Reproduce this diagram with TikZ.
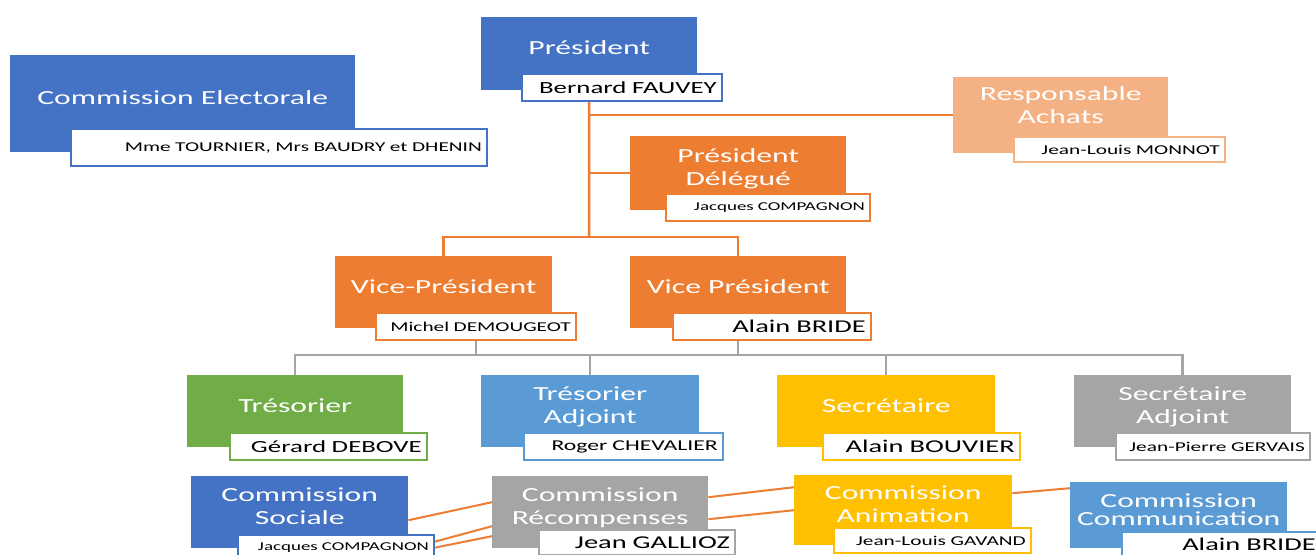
\documentclass[tikz,border=0pt]{standalone}
\usepackage{fontspec}
\setmainfont{Carlito}[FakeStretch=1.58]
\usepackage{tikz}
\usetikzlibrary{positioning,backgrounds}

\definecolor{cblue}{HTML}{4472C4}
\definecolor{corange}{HTML}{ED7D31}
\definecolor{clorange}{HTML}{F4B183}
\definecolor{cgreen}{HTML}{70AD47}
\definecolor{clblue}{HTML}{5B9BD5}
\definecolor{cyellow}{HTML}{FFC000}
\definecolor{cgray}{HTML}{A5A5A5}

\newcommand{\titlesize}{\fontsize{20}{23}\selectfont}
\newcommand{\namebig}{\fontsize{18}{20}\selectfont}
\newcommand{\namelarge}{\fontsize{17}{19}\selectfont}
\newcommand{\namemid}{\fontsize{15}{17}\selectfont}
\newcommand{\namesmall}{\fontsize{13.5}{15}\selectfont}
\newcommand{\nametiny}{\fontsize{12}{14}\selectfont}

\tikzset{
  titlebox/.style={fill=#1, text=white, font=\titlesize, align=center,
    minimum width=216pt, minimum height=72pt, text depth=12pt,
    inner sep=0pt, anchor=north west},
  namebox/.style={draw=#1, line width=1.6pt, fill=white, text=black,
    align=right, inner xsep=5pt, inner ysep=0pt, minimum height=27pt},
  orangeline/.style={draw=corange, line width=2.5pt},
  grayline/.style={draw=cgray, line width=2.5pt},
  linkline/.style={draw=corange, line width=2pt}
}

\begin{document}
\begin{tikzpicture}[x=1pt, y=-1pt]
\useasboundingbox (0,0) rectangle (1316,554);
\clip (0,0) rectangle (1316,554);

% bureau
\node (elec) [titlebox=cblue, minimum width=345pt, minimum height=97pt] at (10,55) {Commission Electorale};
\node (elecname) [namebox=cblue, text width=406pt, minimum height=37pt, font=\namesmall, below right=-24pt and 60pt of elec.south west] {Mme TOURNIER, Mrs BAUDRY et DHENIN};

\node (pres) [titlebox=cblue, minimum height=73pt] at (481,17) {Président};
\node (presname) [namebox=cblue, text width=190pt, font=\namelarge, below right=-17pt and 40pt of pres.south west] {Bernard FAUVEY};

\node (achats) [titlebox=clorange, minimum width=215pt, minimum height=76pt, text depth=20pt] at (953,77) {Responsable\\Achats};
\node (achatsname) [namebox=clorange, text width=201pt, minimum height=25pt, font=\namesmall, below right=-17pt and 60pt of achats.south west] {Jean-Louis MONNOT};

\node (deleg) [titlebox=corange, minimum height=74pt] at (630,136) {Président\\Délégué};
\node (delegname) [namebox=corange, text width=194pt, font=\nametiny, below right=-17pt and 35pt of deleg.south west] {Jacques COMPAGNON};

\node (vp1) [titlebox=corange, minimum width=217pt] at (335,256) {Vice-Président};
\node (vp1name) [namebox=corange, text width=190pt, font=\namesmall, below right=-16pt and 40pt of vp1.south west] {Michel DEMOUGEOT};

\node (vp2) [titlebox=corange] at (630,256) {Vice Président};
\node (vp2name) [namebox=corange, text width=188pt, font=\namebig, below right=-16pt and 42pt of vp2.south west] {Alain BRIDE};

% equipe
\node (tres) [titlebox=cgreen] at (187,375) {Trésorier};
\node (tresname) [namebox=cgreen, text width=187pt, font=\namelarge, below right=-15pt and 42pt of tres.south west] {Gérard DEBOVE};

\node (tresadj) [titlebox=clblue, minimum width=218pt] at (481,375) {Trésorier\\Adjoint};
\node (tresadjname) [namebox=clblue, text width=189pt, font=\namemid, below right=-15pt and 42pt of tresadj.south west] {Roger CHEVALIER};

\node (secr) [titlebox=cyellow, minimum width=218pt] at (777,375) {Secrétaire};
\node (secrname) [namebox=cyellow, text width=187pt, font=\namebig, below right=-15pt and 45pt of secr.south west] {Alain BOUVIER};

\node (secradj) [titlebox=cgray, minimum width=217pt] at (1074,375) {Secrétaire\\Adjoint};
\node (secradjname) [namebox=cgray, text width=184pt, font=\namesmall, below right=-15pt and 41pt of secradj.south west] {Jean-Pierre GERVAIS};

% commissions
\node (soc) [titlebox=cblue, minimum width=217pt] at (191,476) {Commission\\Sociale};
\node (socname) [namebox=cblue, text width=186pt, minimum height=25pt, font=\nametiny, below right=-14pt and 46pt of soc.south west] {Jacques COMPAGNON};

\node (recomp) [titlebox=cgray] at (492,476) {Commission\\Récompenses};
\node (recompname) [namebox=cgray, text width=186pt, minimum height=25pt, font=\namebig, below right=-19pt and 46pt of recomp.south west] {Jean GALLIOZ};

\node (anim) [titlebox=cyellow, minimum width=218pt, minimum height=70pt] at (794,475) {Commission\\Animation};
\node (animname) [namebox=cyellow, text width=187pt, minimum height=25pt, font=\namesmall, below right=-18pt and 39pt of anim.south west] {Jean-Louis GAVAND};

\node (comm) [titlebox=clblue, minimum width=217pt, minimum height=66pt, font=\fontsize{20}{18}\selectfont] at (1070,482) {Commission\\Communication};
\node (commname) [namebox=clblue, text width=189pt, minimum height=25pt, font=\namebig, below right=-17pt and 51pt of comm.south west] {Alain BRIDE};

\begin{scope}[on background layer]
  \coordinate (vpbus) at (589,237);
  \coordinate (teambus) at (589,355);
  \draw[orangeline] (pres.south) -- (vpbus);
  \draw[orangeline] (pres.south |- achats.west) -- (achats.west);
  \draw[orangeline] (pres.south |- deleg.west) -- (deleg.west);
  \draw[orangeline] (vp1.north) |- (vpbus) -| (vp2.north);

  \draw[grayline] (vp1name.south) -- (vp1name.south |- teambus);
  \draw[grayline] (vp2.south) -- (vp2.south |- teambus);
  \draw[grayline] (tres.north) |- (teambus) -| (secradj.north);
  \draw[grayline] (tresadj.north) -- (tresadj.north |- teambus);
  \draw[grayline] (secr.north) -- (secr.north |- teambus);

  \draw[linkline] ([yshift=-8pt]soc.east) -- ([yshift=10pt]recomp.west);
  \draw[linkline] ([yshift=6pt]socname.east) -- ([yshift=-14pt]recomp.west);
  \draw[linkline] ([yshift=0pt]socname.east) -- ([yshift=-24pt]recomp.west);
  \draw[linkline] ([yshift=15pt]recomp.east) -- ([yshift=23pt]anim.west);
  \draw[linkline] ([yshift=-7pt]recomp.east) -- (anim.west);
  \draw[linkline] ([yshift=17pt]anim.east) -- ([yshift=27pt]comm.west);
\end{scope}
\end{tikzpicture}
\end{document}
